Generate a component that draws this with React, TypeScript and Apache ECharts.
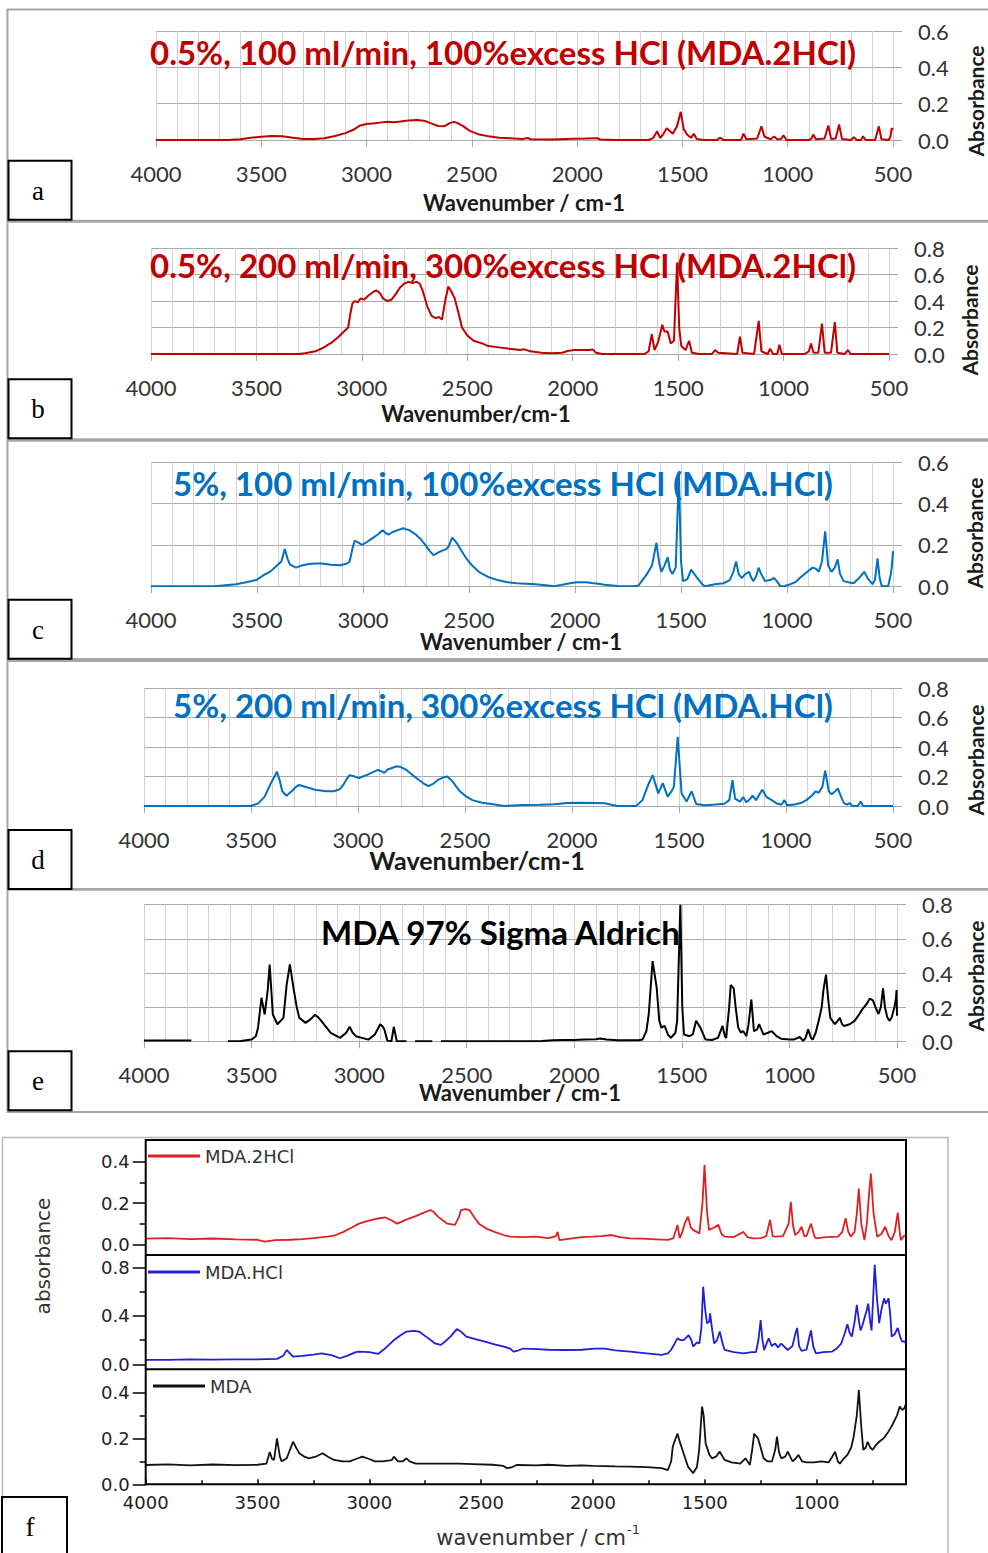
import React, { useEffect, useRef } from "react";
import * as echarts from "echarts";

// ---------------- data ----------------
const xTickValues = [4000, 3500, 3000, 2500, 2000, 1500, 1000, 500];
const yMaxA = 0.6, yMaxB = 0.8, yMaxC = 0.6, yMaxD = 0.8, yMaxE = 0.8;

const titleA = "0.5%, 100 ml/min, 100%excess HCl (MDA.2HCl)";
const titleB = "0.5%, 200 ml/min, 300%excess HCl (MDA.2HCl)";
const titleC = "5%, 100 ml/min, 100%excess HCl (MDA.HCl)";
const titleD = "5%, 200 ml/min, 300%excess HCl (MDA.HCl)";
const titleE = "MDA 97% Sigma Aldrich";
const legendF = ["MDA.2HCl", "MDA.HCl", "MDA"];

type P = [number, number | null];

const specA: P[] = [
  [4000, 0], [3660, 0], [3600, 0.004], [3550, 0.012], [3500, 0.018], [3450, 0.022], [3400, 0.021], [3350, 0.012],
  [3300, 0.006], [3250, 0.005], [3200, 0.01], [3150, 0.022], [3100, 0.038], [3060, 0.058], [3030, 0.08], [3000, 0.088],
  [2960, 0.092], [2930, 0.097], [2900, 0.1], [2870, 0.098], [2840, 0.102], [2800, 0.108], [2760, 0.11], [2720, 0.104],
  [2690, 0.09], [2660, 0.077], [2630, 0.076], [2605, 0.093], [2585, 0.1], [2565, 0.092], [2540, 0.075], [2510, 0.05],
  [2470, 0.032], [2420, 0.02], [2370, 0.013], [2320, 0.01], [2260, 0.006], [2235, 0.011], [2220, 0.004], [2120, 0.003],
  [2020, 0.007], [1960, 0.008], [1905, 0.01], [1890, 0.003], [1820, 0], [1660, 0], [1640, 0.01], [1620, 0.048],
  [1606, 0.012], [1592, 0.03], [1575, 0.064], [1562, 0.052], [1546, 0.035], [1526, 0.075], [1508, 0.155], [1494, 0.06],
  [1478, 0.03], [1460, 0.012], [1446, 0.034], [1432, 0.005], [1400, 0], [1335, 0], [1322, 0.013], [1305, 0],
  [1222, 0], [1210, 0.035], [1196, 0.004], [1145, 0.008], [1125, 0.075], [1110, 0.018], [1080, 0.004], [1065, 0.02],
  [1050, 0.004], [1032, 0.005], [1020, 0.026], [1006, 0], [900, 0], [888, 0.006], [879, 0.03], [866, 0.004],
  [825, 0.008], [807, 0.08], [794, 0.006], [772, 0.008], [756, 0.085], [742, 0.005], [700, 0], [686, 0.016],
  [672, 0], [652, 0], [642, 0.02], [630, 0], [585, 0], [567, 0.075], [555, 0.004], [520, 0], [512, 0.02],
  [506, 0.065], [500, 0.055],
];

const specB: P[] = [
  [4000, 0], [3300, 0], [3270, 0.005], [3220, 0.02], [3180, 0.05], [3140, 0.09], [3110, 0.13], [3085, 0.17],
  [3065, 0.2], [3055, 0.3], [3045, 0.38], [3035, 0.4], [3020, 0.39], [3005, 0.42], [2990, 0.41], [2970, 0.44],
  [2945, 0.47], [2930, 0.48], [2915, 0.46], [2900, 0.42], [2880, 0.4], [2860, 0.41], [2840, 0.45], [2820, 0.5],
  [2800, 0.53], [2780, 0.545], [2760, 0.535], [2740, 0.545], [2725, 0.53], [2710, 0.47], [2690, 0.36], [2670, 0.29],
  [2650, 0.27], [2635, 0.28], [2620, 0.26], [2605, 0.4], [2590, 0.51], [2575, 0.47], [2560, 0.42], [2545, 0.33],
  [2525, 0.2], [2500, 0.14], [2470, 0.1], [2430, 0.08], [2400, 0.06], [2350, 0.05], [2300, 0.04], [2250, 0.03],
  [2230, 0.035], [2200, 0.02], [2150, 0.01], [2100, 0.005], [2050, 0.01], [2020, 0.025], [1990, 0.03], [1950, 0.03],
  [1920, 0.03], [1905, 0.035], [1890, 0.01], [1860, 0], [1660, 0], [1640, 0.02], [1625, 0.15], [1612, 0.03],
  [1595, 0.09], [1575, 0.22], [1565, 0.17], [1550, 0.17], [1535, 0.08], [1520, 0.1], [1505, 0.69], [1495, 0.2],
  [1485, 0.06], [1465, 0.03], [1448, 0.1], [1435, 0.01], [1400, 0], [1340, 0], [1325, 0.03], [1310, 0.01],
  [1220, 0], [1207, 0.13], [1195, 0.01], [1140, 0], [1118, 0.25], [1105, 0.02], [1075, 0], [1064, 0.04],
  [1050, 0], [1030, 0], [1020, 0.07], [1008, 0], [900, 0], [880, 0.02], [870, 0.08], [858, 0.01], [835, 0.01],
  [818, 0.23], [805, 0.01], [775, 0.01], [757, 0.24], [745, 0.01], [710, 0], [695, 0.03], [682, 0], [500, 0],
];

const specC: P[] = [
  [4000, 0], [3700, 0], [3660, 0.004], [3600, 0.01], [3550, 0.02], [3500, 0.032], [3465, 0.056], [3436, 0.072],
  [3406, 0.1], [3385, 0.12], [3369, 0.18], [3355, 0.13], [3344, 0.105], [3316, 0.09], [3290, 0.1], [3255, 0.108],
  [3225, 0.11], [3196, 0.11], [3150, 0.104], [3107, 0.102], [3075, 0.11], [3063, 0.12], [3048, 0.19], [3039, 0.22],
  [3020, 0.21], [3004, 0.2], [2980, 0.215], [2958, 0.23], [2930, 0.25], [2908, 0.27], [2890, 0.255], [2878, 0.25],
  [2860, 0.262], [2839, 0.27], [2810, 0.28], [2780, 0.27], [2751, 0.25], [2730, 0.23], [2706, 0.2], [2685, 0.17],
  [2667, 0.15], [2650, 0.16], [2632, 0.17], [2610, 0.178], [2597, 0.19], [2579, 0.235], [2558, 0.21], [2535, 0.17],
  [2513, 0.135], [2485, 0.1], [2454, 0.07], [2410, 0.045], [2365, 0.03], [2320, 0.02], [2276, 0.015], [2186, 0.01],
  [2140, 0.005], [2097, 0], [2060, 0.008], [2024, 0.015], [1990, 0.02], [1949, 0.02], [1920, 0.016], [1890, 0.012],
  [1860, 0.008], [1800, 0.002], [1727, 0], [1700, 0.004], [1682, 0.03], [1660, 0.06], [1637, 0.1], [1616, 0.21],
  [1604, 0.12], [1593, 0.07], [1578, 0.1], [1563, 0.14], [1552, 0.08], [1540, 0.06], [1525, 0.09], [1510, 0.54],
  [1500, 0.12], [1490, 0.025], [1470, 0.035], [1452, 0.08], [1438, 0.06], [1423, 0.04], [1400, 0.01], [1387, 0],
  [1340, 0.01], [1298, 0.015], [1270, 0.03], [1253, 0.07], [1240, 0.12], [1228, 0.06], [1214, 0.04], [1195, 0.06],
  [1179, 0.07], [1168, 0.04], [1159, 0.025], [1145, 0.05], [1134, 0.09], [1122, 0.06], [1104, 0.025], [1080, 0.03],
  [1060, 0.04], [1045, 0.02], [1031, 0], [1010, 0.002], [985, 0.01], [960, 0.02], [940, 0.04], [910, 0.065],
  [879, 0.09], [864, 0.085], [850, 0.07], [835, 0.12], [820, 0.265], [806, 0.1], [790, 0.07], [775, 0.09],
  [761, 0.13], [750, 0.06], [733, 0.025], [710, 0.02], [686, 0.015], [660, 0.04], [636, 0.07], [620, 0.04],
  [597, 0.01], [585, 0.03], [573, 0.135], [563, 0.04], [553, 0], [523, 0], [510, 0.06], [505, 0.1], [500, 0.17],
];

const specD: P[] = [
  [4000, 0], [3500, 0], [3466, 0.018], [3436, 0.064], [3407, 0.155], [3390, 0.2], [3379, 0.234], [3365, 0.17],
  [3354, 0.1], [3334, 0.07], [3310, 0.1], [3290, 0.13], [3275, 0.143], [3240, 0.128], [3201, 0.11], [3150, 0.1],
  [3112, 0.1], [3085, 0.115], [3069, 0.143], [3050, 0.19], [3039, 0.21], [3015, 0.2], [2996, 0.19], [2960, 0.21],
  [2930, 0.23], [2907, 0.245], [2890, 0.235], [2877, 0.225], [2860, 0.25], [2848, 0.255], [2818, 0.27], [2800, 0.265],
  [2774, 0.245], [2745, 0.21], [2715, 0.177], [2690, 0.15], [2671, 0.135], [2650, 0.15], [2627, 0.177], [2600, 0.195],
  [2583, 0.2], [2560, 0.17], [2540, 0.13], [2524, 0.1], [2495, 0.065], [2465, 0.04], [2420, 0.022], [2377, 0.014],
  [2318, 0], [2270, 0.004], [2230, 0.006], [2150, 0.008], [2080, 0.012], [2024, 0.02], [1960, 0.022], [1900, 0.02],
  [1847, 0.018], [1800, 0.004], [1788, 0], [1700, 0], [1671, 0.04], [1641, 0.155], [1623, 0.21], [1597, 0.086],
  [1576, 0.155], [1553, 0.064], [1535, 0.1], [1524, 0.13], [1506, 0.47], [1488, 0.086], [1465, 0.03], [1441, 0.1],
  [1420, 0.014], [1380, 0.005], [1330, 0.01], [1288, 0.015], [1265, 0.04], [1250, 0.175], [1238, 0.05], [1215, 0.03],
  [1200, 0.06], [1185, 0.025], [1170, 0.045], [1156, 0.07], [1140, 0.04], [1111, 0.11], [1090, 0.06], [1067, 0.04],
  [1040, 0.015], [1020, 0.01], [1008, 0.04], [995, 0.005], [960, 0.01], [930, 0.02], [905, 0.04], [880, 0.07],
  [861, 0.1], [847, 0.09], [830, 0.13], [817, 0.24], [800, 0.1], [787, 0.08], [770, 0.1], [758, 0.12], [745, 0.07],
  [729, 0.02], [715, 0.01], [703, 0.02], [690, 0], [665, 0], [651, 0.03], [640, 0], [500, 0],
];

const specE: P[] = [
  [4000, 0.005], [3780, 0.005], [3775, null], [3610, 0], [3550, 0.002], [3500, 0.01], [3480, 0.03], [3470, 0.08],
  [3454, 0.255], [3439, 0.157], [3425, 0.3], [3416, 0.45], [3401, 0.157], [3380, 0.1], [3352, 0.137], [3337, 0.33],
  [3322, 0.45], [3305, 0.31], [3290, 0.2], [3278, 0.137], [3249, 0.108], [3225, 0.13], [3205, 0.155], [3190, 0.14],
  [3176, 0.12], [3132, 0.05], [3089, 0.02], [3060, 0.05], [3044, 0.085], [3030, 0.05], [3015, 0.03], [2957, 0.01],
  [2927, 0.04], [2902, 0.1], [2890, 0.085], [2883, 0.07], [2869, 0.004], [2850, 0], [2839, 0.085], [2825, 0],
  [2780, 0], [2770, null], [2740, 0], [2660, 0], [2650, null], [2620, 0], [2200, 0], [2150, 0.002], [2100, 0.006],
  [2050, 0.008], [2000, 0.008], [1950, 0.01], [1900, 0.012], [1880, 0.016], [1850, 0.01], [1800, 0.006], [1700, 0.006],
  [1683, 0.01], [1665, 0.06], [1654, 0.157], [1636, 0.47], [1617, 0.314], [1605, 0.12], [1595, 0.08], [1580, 0.09],
  [1565, 0.04], [1551, 0.02], [1530, 0.05], [1522, 0.12], [1507, 0.8], [1498, 0.2], [1490, 0.04], [1465, 0.03],
  [1449, 0.04], [1434, 0.12], [1414, 0.08], [1390, 0.01], [1360, 0.008], [1332, 0.02], [1311, 0.09], [1300, 0.03],
  [1294, 0.02], [1280, 0.2], [1273, 0.33], [1259, 0.31], [1250, 0.2], [1238, 0.08], [1225, 0.05], [1215, 0.06],
  [1200, 0.03], [1190, 0.1], [1177, 0.245], [1165, 0.06], [1150, 0.07], [1141, 0.1], [1121, 0.04], [1100, 0.05],
  [1082, 0.06], [1060, 0.03], [1039, 0.015], [1000, 0.01], [980, 0.01], [952, 0.025], [936, 0.002], [925, 0.02],
  [913, 0.07], [900, 0.02], [892, 0.01], [878, 0.05], [864, 0.12], [850, 0.2], [842, 0.3], [830, 0.39], [820, 0.25],
  [810, 0.137], [789, 0.1], [776, 0.12], [766, 0.137], [755, 0.1], [746, 0.09], [720, 0.1], [697, 0.12], [680, 0.15],
  [660, 0.19], [640, 0.22], [627, 0.25], [612, 0.24], [600, 0.2], [586, 0.16], [575, 0.2], [565, 0.31], [556, 0.2],
  [545, 0.14], [534, 0.12], [525, 0.14], [512, 0.2], [505, 0.25], [502, 0.3], [500, 0.15],
];

const specF1: P[] = [
  [4000, 0.027], [3900, 0.03], [3800, 0.025], [3700, 0.028], [3600, 0.024], [3500, 0.022], [3468, 0.013], [3420, 0.02],
  [3350, 0.022], [3300, 0.025], [3250, 0.03], [3186, 0.037], [3150, 0.045], [3116, 0.06], [3080, 0.08], [3046, 0.1],
  [3010, 0.112], [2989, 0.118], [2960, 0.125], [2927, 0.13], [2900, 0.115], [2876, 0.1], [2850, 0.112], [2820, 0.126],
  [2790, 0.138], [2764, 0.15], [2727, 0.166], [2710, 0.155], [2693, 0.134], [2670, 0.115], [2651, 0.1], [2617, 0.094],
  [2600, 0.13], [2590, 0.166], [2570, 0.17], [2552, 0.166], [2530, 0.13], [2510, 0.1], [2475, 0.075], [2440, 0.06],
  [2400, 0.045], [2369, 0.037], [2320, 0.035], [2256, 0.037], [2200, 0.03], [2165, 0.04], [2158, 0.06], [2150, 0.02],
  [2100, 0.028], [2050, 0.035], [2003, 0.037], [1960, 0.04], [1918, 0.045], [1880, 0.035], [1834, 0.029], [1780, 0.027],
  [1720, 0.024], [1664, 0.021], [1640, 0.03], [1622, 0.094], [1612, 0.03], [1600, 0.06], [1590, 0.1], [1575, 0.134],
  [1562, 0.08], [1552, 0.07], [1524, 0.053], [1510, 0.2], [1501, 0.385], [1490, 0.16], [1481, 0.07], [1460, 0.08],
  [1439, 0.094], [1425, 0.05], [1411, 0.037], [1370, 0.035], [1327, 0.06], [1310, 0.035], [1284, 0.029], [1250, 0.03],
  [1225, 0.04], [1208, 0.118], [1196, 0.04], [1186, 0.037], [1150, 0.04], [1125, 0.1], [1115, 0.206], [1105, 0.09],
  [1096, 0.045], [1080, 0.06], [1067, 0.085], [1055, 0.04], [1045, 0.04], [1025, 0.1], [1010, 0.04], [1003, 0.029],
  [960, 0.035], [904, 0.037], [885, 0.06], [870, 0.126], [858, 0.06], [847, 0.037], [830, 0.06], [820, 0.15],
  [811, 0.27], [800, 0.1], [786, 0.02], [775, 0.1], [765, 0.25], [757, 0.343], [745, 0.15], [729, 0.037], [710, 0.05],
  [693, 0.085], [678, 0.04], [665, 0.02], [650, 0.06], [637, 0.153], [628, 0.06], [623, 0.02], [610, 0.04], [600, 0.045],
];

const specF2: P[] = [
  [4000, 0.036], [3900, 0.036], [3800, 0.04], [3700, 0.038], [3600, 0.04], [3500, 0.04], [3413, 0.045], [3385, 0.07],
  [3369, 0.118], [3355, 0.09], [3341, 0.063], [3300, 0.07], [3250, 0.08], [3214, 0.09], [3170, 0.075], [3131, 0.05],
  [3100, 0.07], [3060, 0.1], [3046, 0.104], [3000, 0.1], [2961, 0.085], [2930, 0.13], [2890, 0.2], [2860, 0.24],
  [2834, 0.27], [2800, 0.275], [2778, 0.27], [2740, 0.22], [2707, 0.173], [2680, 0.16], [2660, 0.19], [2637, 0.228],
  [2609, 0.29], [2590, 0.27], [2566, 0.228], [2530, 0.21], [2483, 0.187], [2440, 0.165], [2398, 0.146], [2370, 0.13],
  [2355, 0.104], [2340, 0.11], [2313, 0.13], [2250, 0.125], [2200, 0.12], [2116, 0.118], [2050, 0.12], [1990, 0.13],
  [1946, 0.13], [1900, 0.115], [1834, 0.104], [1760, 0.09], [1693, 0.077], [1665, 0.09], [1651, 0.118], [1635, 0.17],
  [1622, 0.214], [1610, 0.2], [1594, 0.2], [1572, 0.24], [1560, 0.2], [1552, 0.146], [1535, 0.18], [1524, 0.173],
  [1515, 0.3], [1507, 0.64], [1498, 0.45], [1490, 0.338], [1480, 0.35], [1476, 0.42], [1468, 0.3], [1458, 0.173],
  [1445, 0.2], [1433, 0.27], [1420, 0.17], [1411, 0.118], [1370, 0.1], [1327, 0.09], [1290, 0.1], [1271, 0.1],
  [1260, 0.2], [1250, 0.365], [1242, 0.2], [1234, 0.118], [1224, 0.17], [1214, 0.214], [1200, 0.15], [1186, 0.173],
  [1172, 0.14], [1158, 0.17], [1129, 0.118], [1108, 0.15], [1095, 0.25], [1087, 0.3], [1078, 0.15], [1067, 0.11],
  [1045, 0.12], [1035, 0.2], [1025, 0.28], [1015, 0.15], [1003, 0.09], [970, 0.1], [932, 0.104], [910, 0.13],
  [890, 0.17], [875, 0.25], [862, 0.33], [852, 0.26], [842, 0.228], [830, 0.35], [820, 0.49], [810, 0.35], [803, 0.28],
  [795, 0.32], [786, 0.38], [775, 0.45], [769, 0.5], [760, 0.35], [754, 0.28], [748, 0.5], [740, 0.82], [730, 0.55],
  [720, 0.34], [710, 0.45], [698, 0.544], [690, 0.5], [678, 0.544], [670, 0.4], [664, 0.228], [650, 0.25], [637, 0.3],
  [625, 0.22], [617, 0.187], [608, 0.19], [600, 0.173],
];

const specF3: P[] = [
  [4000, 0.084], [3900, 0.087], [3800, 0.082], [3700, 0.086], [3600, 0.083], [3500, 0.085], [3460, 0.09], [3445, 0.14],
  [3435, 0.11], [3426, 0.106], [3413, 0.2], [3400, 0.12], [3392, 0.1], [3369, 0.113], [3355, 0.15], [3341, 0.185],
  [3325, 0.155], [3313, 0.135], [3290, 0.12], [3271, 0.113], [3240, 0.12], [3209, 0.135], [3185, 0.12], [3158, 0.106],
  [3120, 0.1], [3088, 0.1], [3060, 0.11], [3031, 0.12], [3000, 0.11], [2975, 0.1], [2940, 0.1], [2900, 0.105],
  [2890, 0.12], [2872, 0.1], [2850, 0.1], [2834, 0.113], [2820, 0.1], [2792, 0.09], [2700, 0.09], [2600, 0.09],
  [2538, 0.088], [2450, 0.085], [2400, 0.08], [2384, 0.07], [2360, 0.075], [2341, 0.084], [2250, 0.082], [2200, 0.085],
  [2116, 0.08], [2050, 0.082], [2000, 0.08], [1900, 0.078], [1834, 0.077], [1760, 0.075], [1693, 0.07], [1665, 0.062],
  [1650, 0.1], [1643, 0.164], [1630, 0.2], [1622, 0.22], [1610, 0.18], [1600, 0.15], [1575, 0.077], [1552, 0.048],
  [1535, 0.075], [1525, 0.15], [1512, 0.338], [1505, 0.3], [1496, 0.178], [1480, 0.13], [1468, 0.113], [1450, 0.12],
  [1433, 0.142], [1420, 0.12], [1411, 0.106], [1380, 0.095], [1341, 0.09], [1318, 0.113], [1298, 0.084], [1288, 0.15],
  [1279, 0.22], [1262, 0.2], [1250, 0.16], [1237, 0.113], [1220, 0.1], [1199, 0.1], [1185, 0.15], [1177, 0.207],
  [1168, 0.14], [1158, 0.113], [1140, 0.12], [1129, 0.142], [1118, 0.12], [1107, 0.1], [1095, 0.11], [1081, 0.128],
  [1065, 0.1], [1045, 0.095], [1011, 0.095], [980, 0.1], [946, 0.095], [930, 0.12], [917, 0.142], [905, 0.1],
  [896, 0.09], [880, 0.11], [862, 0.128], [845, 0.16], [834, 0.207], [820, 0.3], [811, 0.41], [800, 0.25], [791, 0.15],
  [780, 0.16], [771, 0.185], [760, 0.16], [749, 0.15], [735, 0.17], [720, 0.185], [700, 0.2], [678, 0.23], [660, 0.26],
  [650, 0.28], [640, 0.3], [628, 0.338], [617, 0.323], [608, 0.33], [600, 0.35],
];

// ---------------- layout / styles ----------------
const W = 988;
const H = 1553;
const RED = "#c00000";
const BLUE = "#0070c0";
const BLACK = "#000000";
const GRID_V = "#d0d0d0";
const GRID_H = "#a9a9a9";
const FRAME = "#a6a6a6";
const TITLE_SIZE = 33;

const PANELS = [
  { id: "a", data: specA, yMax: yMaxA, color: RED, title: titleA, grid: { left: 156, top: 31, width: 737, height: 109 },
    tx: 150, ty: 52, xName: "Wavenumber / cm-1", nx: 524, ny: 202, ns: 22, ax: 975, ay: 101, f0: 9.5, f1: 220.7, b0: 160.7 },
  { id: "b", data: specB, yMax: yMaxB, color: RED, title: titleB, grid: { left: 151, top: 248, width: 738, height: 106 },
    tx: 150, ty: 265, xName: "Wavenumber/cm-1", nx: 476, ny: 413, ns: 22, ax: 969, ay: 320, f0: 221.7, f1: 439.3, b0: 379.3 },
  { id: "c", data: specC, yMax: yMaxC, color: BLUE, title: titleC, grid: { left: 151, top: 462, width: 742, height: 124.3 },
    tx: 173, ty: 483, xName: "Wavenumber / cm-1", nx: 521, ny: 641, ns: 22, ax: 974, ay: 533, f0: 440.7, f1: 659, b0: 599.7 },
  { id: "d", data: specD, yMax: yMaxD, color: BLUE, title: titleD, grid: { left: 144, top: 688.3, width: 749, height: 117.7 },
    tx: 173, ty: 705, xName: "Wavenumber/cm-1", nx: 477, ny: 860, ns: 25, ax: 975, ay: 760, f0: 661, f1: 889, b0: 830 },
  { id: "e", data: specE, yMax: yMaxE, color: BLACK, title: titleE, grid: { left: 144, top: 904.7, width: 753, height: 136.6 },
    tx: 321, ty: 932, xName: "Wavenumber / cm-1", nx: 520, ny: 1092, ns: 22, ax: 975, ay: 976, f0: 889.7, f1: 1112, b0: 1051.3 },
];

const F_LEFT = 145.7;
const F_RIGHT = 906;
const F_TOP = 1140;
const F_BOTTOM = 1484.3;
const F_DIV1 = 1255;
const F_DIV2 = 1369.3;
const F_SUB = [
  { data: specF1, name: legendF[0], color: "#e02020", yMax: 0.4, interval: 0.2, top: 1161.7, height: 82.6, legendTop: 1147, legendLeft: 148 },
  { data: specF2, name: legendF[1], color: "#1f1fd6", yMax: 0.8, interval: 0.4, top: 1267.3, height: 97, legendTop: 1263, legendLeft: 148 },
  { data: specF3, name: legendF[2], color: "#111111", yMax: 0.4, interval: 0.2, top: 1392.3, height: 92, legendTop: 1377, legendLeft: 153 },
];

function buildOption(): any {
  const grid: any[] = [];
  const xAxis: any[] = [];
  const yAxis: any[] = [];
  const series: any[] = [];
  const title: any[] = [];
  const legend: any[] = [];
  const graphic: any[] = [];

  PANELS.forEach((p, i) => {
    grid.push({ ...p.grid, outerBoundsMode: "none", containLabel: false });
    xAxis.push({
      type: "value", gridIndex: i, inverse: true, min: 500, max: 4000, interval: 500,
      axisLine: { show: true, lineStyle: { color: GRID_H, width: 1 } },
      axisTick: { show: true, length: 7, lineStyle: { color: GRID_H, width: 1 } },
      axisLabel: { formatter: (v: number) => (xTickValues.indexOf(v) >= 0 ? String(v) : ""), fontFamily: "Lato", fontSize: 22, color: "#333", margin: 22 },
      splitLine: { show: true, lineStyle: { color: GRID_V, width: 1 } },
      minorTick: { show: false, splitNumber: 5 },
      minorSplitLine: { show: true, lineStyle: { color: GRID_V, width: 1 } },
    });
    yAxis.push({
      type: "value", gridIndex: i, position: "right", min: 0, max: p.yMax, interval: 0.2,
      axisLine: { show: false },
      axisTick: { show: true, length: 9, lineStyle: { color: GRID_H, width: 1 } },
      axisLabel: { formatter: (v: number) => v.toFixed(1), fontFamily: "Lato", fontSize: 22, color: "#333", margin: 25 },
      splitLine: { show: true, lineStyle: { color: GRID_H, width: 1 } },
    });
    series.push({
      type: "line", name: p.title, xAxisIndex: i, yAxisIndex: i, data: p.data, showSymbol: false, symbol: "none",
      connectNulls: false, lineStyle: { color: p.color, width: 2 }, itemStyle: { color: p.color }, z: 5, silent: true,
    });
    title.push({
      text: p.title, left: p.tx, top: p.ty - TITLE_SIZE / 2, padding: 0,
      textStyle: { fontFamily: "Lato", fontWeight: "bold", fontSize: TITLE_SIZE, lineHeight: TITLE_SIZE, color: p.color },
    });
    graphic.push({ type: "rect", silent: true, z: 1, shape: { x: 7.5, y: p.f0, width: 992, height: p.f1 - p.f0 },
      style: { fill: "none", stroke: FRAME, lineWidth: 2 } });
    graphic.push({ type: "rect", silent: true, z: 20, shape: { x: 8.5, y: p.b0, width: 63, height: 59 },
      style: { fill: "#fff", stroke: "#000", lineWidth: 2 } });
    graphic.push({ type: "text", silent: true, z: 21, x: 38, y: p.b0 + 30,
      style: { text: p.id, fontFamily: "Liberation Serif", fontSize: 27, fill: "#000", align: "center", verticalAlign: "middle" } });
    graphic.push({ type: "text", silent: true, z: 21, x: p.nx, y: p.ny,
      style: { text: p.xName, fontFamily: "Lato", fontWeight: "bold", fontSize: p.ns, fill: "#1a1a1a", align: "center", verticalAlign: "middle" } });
    graphic.push({ type: "text", silent: true, z: 21, x: p.ax, y: p.ay, rotation: Math.PI / 2,
      style: { text: "Absorbance", fontFamily: "Lato", fontWeight: "bold", fontSize: 21, fill: "#1a1a1a", align: "center", verticalAlign: "middle" } });
  });

  F_SUB.forEach((s, k) => {
    const gi = PANELS.length + k;
    const isBottom = k === F_SUB.length - 1;
    grid.push({ left: F_LEFT, top: s.top, width: F_RIGHT - F_LEFT, height: s.height, outerBoundsMode: "none", containLabel: false });
    xAxis.push({
      type: "value", gridIndex: gi, inverse: true, min: 600, max: 4000, splitNumber: 7, show: isBottom,
      axisLine: { show: false },
      axisTick: { show: true, inside: true, length: 5, lineStyle: { color: "#000", width: 1.5 } },
      minorTick: { show: true, splitNumber: 2, length: 4, lineStyle: { color: "#000", width: 1.5 } },
      axisLabel: { formatter: (v: number) => (v % 500 === 0 ? String(v) : ""), fontFamily: "DejaVu Sans", fontSize: 18, color: "#222", margin: 9 },
      splitLine: { show: false },
    });
    yAxis.push({
      type: "value", gridIndex: gi, position: "left", min: 0, max: s.yMax, interval: s.interval,
      axisLine: { show: false },
      axisTick: { show: true, length: 13, lineStyle: { color: "#000", width: 1.5 } },
      minorTick: { show: true, splitNumber: 2, length: 6, lineStyle: { color: "#000", width: 1.5 } },
      axisLabel: { formatter: (v: number) => v.toFixed(1), fontFamily: "DejaVu Sans", fontSize: 18, color: "#222", margin: 16 },
      splitLine: { show: false },
    });
    series.push({
      type: "line", name: s.name, xAxisIndex: gi, yAxisIndex: gi, data: s.data, showSymbol: false, symbol: "none",
      clip: false, lineStyle: { color: s.color, width: 1.8 }, itemStyle: { color: s.color }, z: 5, silent: true,
    });
    legend.push({
      data: [s.name], left: s.legendLeft, top: s.legendTop, orient: "horizontal", padding: 0, selectedMode: false,
      icon: "rect", itemWidth: 52, itemHeight: 3,
      textStyle: { fontFamily: "DejaVu Sans", fontSize: 18, color: "#333" },
    });
  });

  graphic.push({ type: "rect", silent: true, z: 1, shape: { x: 2.5, y: 1137.5, width: 945.5, height: 430 },
    style: { fill: "none", stroke: "#b8b8b8", lineWidth: 1.5 } });
  graphic.push({ type: "rect", silent: true, z: 30, shape: { x: F_LEFT, y: F_TOP, width: F_RIGHT - F_LEFT, height: F_BOTTOM - F_TOP },
    style: { fill: "none", stroke: "#000", lineWidth: 2 } });
  graphic.push({ type: "line", silent: true, z: 30, shape: { x1: F_LEFT, y1: F_DIV1, x2: F_RIGHT, y2: F_DIV1 },
    style: { stroke: "#000", lineWidth: 2 } });
  graphic.push({ type: "line", silent: true, z: 30, shape: { x1: F_LEFT, y1: F_DIV2, x2: F_RIGHT, y2: F_DIV2 },
    style: { stroke: "#000", lineWidth: 2 } });
  graphic.push({ type: "rect", silent: true, z: 20, shape: { x: 2, y: 1497, width: 65, height: 62 },
    style: { fill: "#fff", stroke: "#000", lineWidth: 2 } });
  graphic.push({ type: "text", silent: true, z: 21, x: 30, y: 1527,
    style: { text: "f", fontFamily: "Liberation Serif", fontSize: 27, fill: "#000", align: "center", verticalAlign: "middle" } });
  graphic.push({ type: "text", silent: true, z: 21, x: 43, y: 1256, rotation: Math.PI / 2,
    style: { text: "absorbance", fontFamily: "DejaVu Sans", fontSize: 20, fill: "#333", align: "center", verticalAlign: "middle" } });
  graphic.push({ type: "text", silent: true, z: 21, x: 626, y: 1538,
    style: { text: "wavenumber / cm", fontFamily: "DejaVu Sans", fontSize: 21, fill: "#333", align: "right", verticalAlign: "middle" } });
  graphic.push({ type: "text", silent: true, z: 21, x: 627, y: 1529,
    style: { text: "-1", fontFamily: "DejaVu Sans", fontSize: 13, fill: "#333", align: "left", verticalAlign: "middle" } });

  return {
    animation: false,
    backgroundColor: "#ffffff",
    title,
    legend,
    grid,
    xAxis,
    yAxis,
    series,
    graphic,
  };
}

export default function App() {
  const ref = useRef<HTMLDivElement>(null);
  useEffect(() => {
    if (!ref.current) return;
    const chart = echarts.init(ref.current, null, { renderer: "svg" });
    chart.setOption(buildOption());
    return () => chart.dispose();
  }, []);
  return (
    <div
      ref={ref}
      style={{ position: "absolute", left: 0, top: 0, width: W, height: H, background: "#fff" }}
    />
  );
}
